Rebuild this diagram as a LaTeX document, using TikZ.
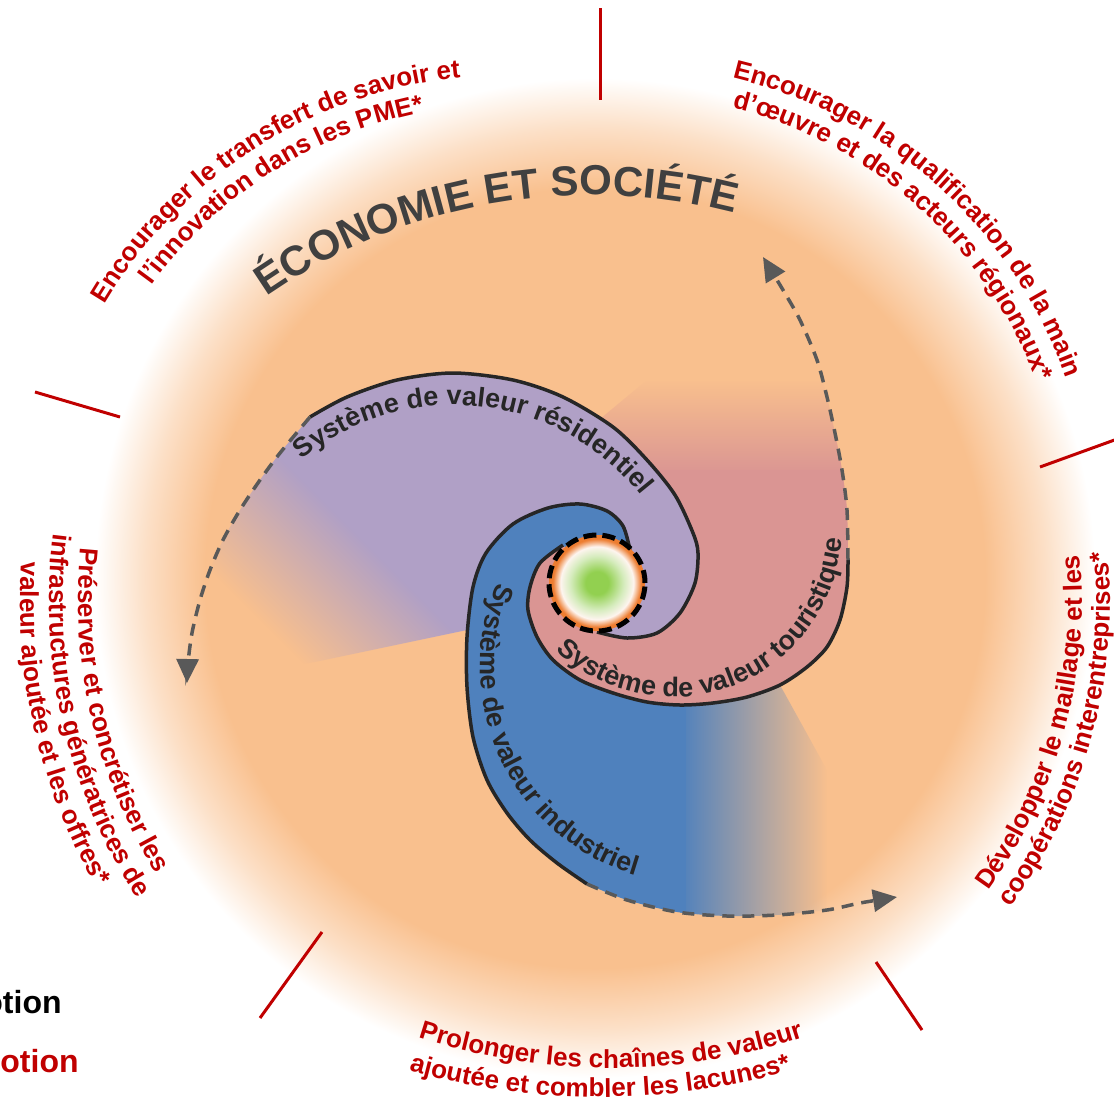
\documentclass[tikz,border=0pt]{standalone}
\usepackage{fontspec}
\setmainfont{Liberation Sans}
\usetikzlibrary{decorations.text,arrows.meta,fadings}

\definecolor{bgorange}{RGB}{249,192,142}
\colorlet{bgmid}{bgorange!50!white}
\definecolor{svpurple}{RGB}{176,160,198}
\definecolor{svpink}{RGB}{218,149,147}
\definecolor{svblue}{RGB}{79,129,189}
\definecolor{svline}{RGB}{38,38,38}
\definecolor{svdash}{RGB}{89,89,89}
\definecolor{axisred}{RGB}{192,0,0}
\definecolor{titlegrey}{RGB}{64,64,64}
\definecolor{coregreen}{RGB}{146,208,80}
\definecolor{corelight}{RGB}{214,236,190}
\definecolor{coreorange}{RGB}{237,125,49}
\colorlet{corecream}{coreorange!8!white}

\pgfdeclareradialshading{discfade}{\pgfpoint{0bp}{0bp}}{color(0bp)=(bgorange); color(19.5bp)=(bgorange); color(22.5bp)=(bgmid); color(25bp)=(white); color(50bp)=(white)}
\pgfdeclareradialshading{corefade}{\pgfpoint{0bp}{0bp}}{color(0bp)=(coregreen); color(6bp)=(coregreen); color(14bp)=(corelight); color(19bp)=(corecream); color(23bp)=(coreorange); color(50bp)=(coreorange)}
\pgfdeclarehorizontalshading{purplemask}{100bp}{color(0bp)=(black); color(46.4bp)=(black); color(53.6bp)=(white); color(100bp)=(white)}
\pgfdeclarefading{purplefadeout}{\pgfuseshading{purplemask}}

\newcommand\axisfont{\fontsize{13}{15}\selectfont\bfseries}
\newcommand\armfont{\fontsize{13.5}{16}\selectfont\bfseries}
\newcommand\titlefont{\fontsize{21}{25}\selectfont\bfseries}

\begin{document}
\begin{tikzpicture}[x=0.5pt,y=-0.5pt,
  armline/.style={draw=svline,line width=1.75pt},
  flowarrow/.style={draw=svdash,line width=1.75pt,dash pattern=on 6pt off 4pt,-{Triangle[length=12pt,width=11pt]}},
  axistick/.style={draw=axisred,line width=1.5pt},
  axislabel/.style={decorate,decoration={text along path,text align=center,text color=axisred,text={|\axisfont|#1}}},
  armlabel/.style={decorate,decoration={text along path,text align=center,text color=svline,text={|\armfont|#1}}},
  core/.style={circle,minimum size=48pt,inner sep=0pt,shading=corefade,draw=black,line width=2.5pt,dash pattern=on 6.5pt off 3pt}]
\useasboundingbox (0,0) rectangle (1114,1104);
\shade[shading=discfade] (595,578) circle[radius=500];

\begin{scope}
\clip (597,583) -- plot[smooth] coordinates {(597,632) (627,638) (657,633) (680,613) (695,583) (698,553) (693,533) (675,495) (647,460) (613,427) (600,419)} -- (665,365) -- (745,250) -- plot[smooth] coordinates {(763,257) (783,290) (800,320) (817,360) (827,397) (835,433) (842,470) (847,510) (848,560)} -- plot[smooth] coordinates {(848,560) (847,587) (840,620) (827,647) (807,667) (780,685) (747,697) (713,703) (680,705) (647,702) (613,693) (580,680) (553,660) (537,637) (528,610) (530,587) (540,563) (563,545)} -- cycle;
\fill[svpink] (500,470) rectangle (900,760);
\fill[svpink,path fading=north] (500,380) rectangle (900,475);
\end{scope}

\begin{scope}
\clip (597,583) -- plot[smooth] coordinates {(630,550) (623,526) (607,511) (580,504) (548,508) (513,524) (486,553) (473,587) (467,637) (467,687) (473,737) (487,780) (507,813) (530,840) (557,863) (587,884)} -- plot[smooth] coordinates {(587,884) (627,900) (677,912) (727,916) (777,915) (827,910) (860,903) (897,897)} -- (827,770) -- plot[smooth] coordinates {(780,685) (747,697) (713,703) (680,705) (647,702) (613,693) (580,680) (553,660) (537,637) (528,610) (530,587) (540,563) (563,545)} -- cycle;
\fill[svblue] (400,480) rectangle (686,950);
\fill[svblue,path fading=east] (680,480) rectangle (827,950);
\end{scope}

\begin{scope}
\clip (597,583) -- plot[smooth] coordinates {(597,632) (627,638) (657,633) (680,613) (695,583) (698,553) (693,533) (675,495) (647,460) (613,427) (563,397) (513,380) (453,373) (397,380) (347,397) (310,417)} -- plot[smooth] coordinates {(310,417) (280,453) (260,480) (240,510) (223,540) (210,570) (200,600) (192,633) (188,663) (187,683)} -- (315,662) -- plot[smooth] coordinates {(467,630) (473,587) (486,553) (513,524) (548,508) (580,504) (607,511) (623,526) (630,550)} -- cycle;
\fill[svpurple,path fading=purplefadeout,fading angle=45] (-200,69) rectangle (700,969);
\end{scope}

\draw[armline] plot[smooth] coordinates {(630,550) (623,526) (607,511) (580,504) (548,508) (513,524) (486,553) (473,587) (467,637) (467,687) (473,737) (487,780) (507,813) (530,840) (557,863) (587,884)};
\draw[armline] plot[smooth] coordinates {(563,545) (540,563) (530,587) (528,610) (537,637) (553,660) (580,680) (613,693) (647,702) (680,705) (713,703) (747,697) (780,685) (807,667) (827,647) (840,620) (847,587) (848,560)};
\draw[armline] plot[smooth] coordinates {(597,632) (627,638) (657,633) (680,613) (695,583) (698,553) (693,533) (675,495) (647,460) (613,427) (563,397) (513,380) (453,373) (397,380) (347,397) (310,417)};

\coordinate (indEnd) at (587,884);
\coordinate (indTip) at (897,897);
\coordinate (touEnd) at (848,560);
\coordinate (touTip) at (763,257);
\coordinate (resEnd) at (310,417);
\coordinate (resTip) at (187,683);
\draw[flowarrow] plot[smooth] coordinates {(indEnd) (627,900) (677,912) (727,916) (777,915) (827,910) (860,903) (indTip)};
\draw[flowarrow] plot[smooth] coordinates {(touEnd) (847,510) (842,470) (835,433) (827,397) (817,360) (800,320) (783,290) (touTip)};
\draw[flowarrow] plot[smooth] coordinates {(resEnd) (280,453) (260,480) (240,510) (223,540) (210,570) (200,600) (192,633) (188,663) (resTip)};

\node[core] (centre) at (597,583) {};

\path[armlabel={Système de valeur résidentiel}] (454,643) ++(222:238) arc[start angle=222,end angle=330,radius=238];
\path[armlabel={Système de valeur touristique}] (673,528) ++(143.7:169) arc[start angle=143.7,end angle=-6.3,radius=169];
\path[armlabel={Système de valeur industriel}] (697,667) ++(214.7:217) arc[start angle=214.7,end angle=94.7,radius=217];

\path[decorate,decoration={text along path,text align=center,text color=titlegrey,text={|\titlefont|ÉCONOMIE ET SOCIÉTÉ}}] (591,763) ++(229.9:568) arc[start angle=229.9,end angle=289.9,radius=568];

\draw[axistick] (600,8) -- (600,100);
\draw[axistick] (35,392) -- (120,417);
\draw[axistick] (1040,467) -- (1120,438);
\draw[axistick] (322,932) -- (260,1018);
\draw[axistick] (876,962) -- (922,1030);

\path[axislabel={Encourager le transfert de savoir et}] (508,545) ++(205.5:470) arc[start angle=205.5,end angle=269.5,radius=470];
\path[axislabel={l’innovation dans les PME*}] (508,545) ++(205.5:441) arc[start angle=205.5,end angle=269.5,radius=441];
\path[axislabel={Encourager la qualification de la main}] (623,535) ++(-83:470) arc[start angle=-83,end angle=-13,radius=470];
\path[axislabel={d’œuvre et des acteurs régionaux*}] (623,535) ++(-83:441) arc[start angle=-83,end angle=-13,radius=441];
\path[axislabel={Développer le maillage et les}] (592,602) ++(45.3:490) arc[start angle=45.3,end angle=-14.7,radius=490];
\path[axislabel={coopérations interentreprises*}] (592,602) ++(45.3:518) arc[start angle=45.3,end angle=-14.7,radius=518];
\path[axislabel={Prolonger les chaînes de valeur}] (611,449) ++(112:619) arc[start angle=112,end angle=68,radius=619];
\path[axislabel={ajoutée et combler les lacunes*}] (600,397) ++(110:700) arc[start angle=110,end angle=70,radius=700];
\path[axislabel={Préserver et concrétiser les}] (597,600) ++(192:519) arc[start angle=192,end angle=142,radius=519];
\path[axislabel={infrastructures génératrices de}] (597,600) ++(192:548) arc[start angle=192,end angle=142,radius=548];
\path[axislabel={valeur ajoutée et les offres*}] (597,600) ++(192:577) arc[start angle=192,end angle=142,radius=577];

\node[anchor=base east,inner sep=0pt,font=\fontsize{16}{19}\selectfont\bfseries] (legendblack) at (62,1013) {otion};
\node[anchor=base east,inner sep=0pt,text=axisred,font=\fontsize{16}{19}\selectfont\bfseries] (legendred) at (79,1072) {notion};
\end{tikzpicture}
\end{document}
